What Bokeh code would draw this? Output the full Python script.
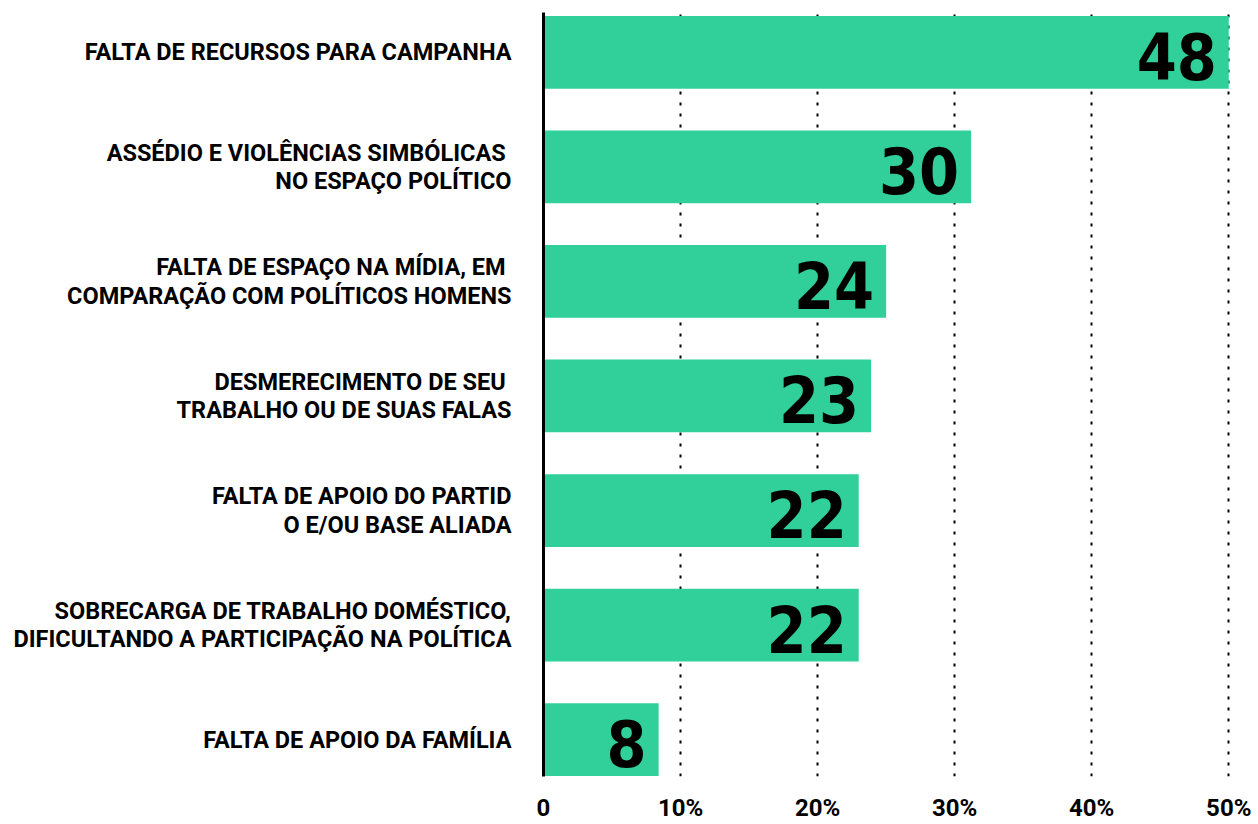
from bokeh.plotting import figure
from bokeh.models import ColumnDataSource, Range1d, FixedTicker
from bokeh.core.properties import value
from bokeh.embed import file_html
from bokeh.resources import INLINE

# Categories, top to bottom
categories = [
    "FALTA DE RECURSOS PARA CAMPANHA",
    "ASSÉDIO E VIOLÊNCIAS SIMBÓLICAS \nNO ESPAÇO POLÍTICO",
    "FALTA DE ESPAÇO NA MÍDIA, EM \nCOMPARAÇÃO COM POLÍTICOS HOMENS",
    "DESMERECIMENTO DE SEU \nTRABALHO OU DE SUAS FALAS",
    "FALTA DE APOIO DO PARTID\nO E/OU BASE ALIADA",
    "SOBRECARGA DE TRABALHO DOMÉSTICO,\nDIFICULTANDO A PARTICIPAÇÃO NA POLÍTICA",
    "FALTA DE APOIO DA FAMÍLIA",
]
# Printed values (%)
shares = [48, 30, 24, 23, 22, 22, 8]
# Bar lengths as drawn in the picture (%)
bar_lengths = [50.0, 31.2, 25.0, 23.9, 23.0, 23.0, 8.4]
# X ticks
x_ticks = [0, 10, 20, 30, 40, 50]
x_tick_labels = ["0", "10%", "20%", "30%", "40%", "50%"]

n = len(categories)
ypos = [n - 1 - i for i in range(n)]

src = ColumnDataSource(dict(
    y=ypos,
    length=bar_lengths,
    label=[str(v) for v in shares],
))

p = figure(
    width=1256, height=824,
    x_range=Range1d(0, 50.2),
    y_range=Range1d(-0.322, n - 1 + 0.348),
    output_backend="svg", toolbar_location=None,
    min_border_left=543, min_border_right=25,
    min_border_top=12, min_border_bottom=46,
)
p.outline_line_color = None
p.background_fill_color = "white"
p.border_fill_color = "white"

# grid
p.ygrid.grid_line_color = None
p.xgrid.grid_line_color = "black"
p.xgrid.grid_line_width = 2
p.xgrid.grid_line_dash = "3 8"

p.hbar(y="y", right="length", left=0, height=0.635, source=src,
       fill_color="#31D09B", line_color=None)

p.text(x="length", y="y", text="label", source=src,
       text_font=value("DejaVu Sans Condensed, DejaVu Sans, sans-serif"),
       text_font_style="bold", text_font_size="64px",
       text_align="right", text_baseline="middle",
       x_offset=-12, y_offset=4, text_color="black")

# x axis
p.xaxis.ticker = FixedTicker(ticks=x_ticks)
p.xaxis.major_label_overrides = {t: l for t, l in zip(x_ticks, x_tick_labels)}
p.xaxis.axis_line_color = None
p.xaxis.major_tick_line_color = None
p.xaxis.minor_tick_line_color = None
p.xaxis.major_tick_out = 0
p.xaxis.major_tick_in = 0
p.xaxis.minor_tick_out = 0
p.xaxis.major_label_text_font = "Roboto"
p.xaxis.major_label_text_font_style = "bold"
p.xaxis.major_label_text_font_size = "24px"
p.xaxis.major_label_text_color = "black"
p.xaxis.major_label_standoff = 17

# y axis
p.yaxis.ticker = FixedTicker(ticks=ypos)
p.yaxis.major_label_overrides = {y: c for y, c in zip(ypos, categories)}
p.yaxis.axis_line_color = "black"
p.yaxis.axis_line_width = 3
p.yaxis.major_tick_line_color = None
p.yaxis.minor_tick_line_color = None
p.yaxis.major_label_text_font = "Roboto"
p.yaxis.major_label_text_font_style = "bold"
p.yaxis.major_label_text_font_size = "23.5px"
p.yaxis.major_label_text_color = "black"
p.yaxis.major_label_text_line_height = 1.02
p.yaxis.major_label_standoff = 26

open("out.html", "w").write(file_html(p, INLINE))
